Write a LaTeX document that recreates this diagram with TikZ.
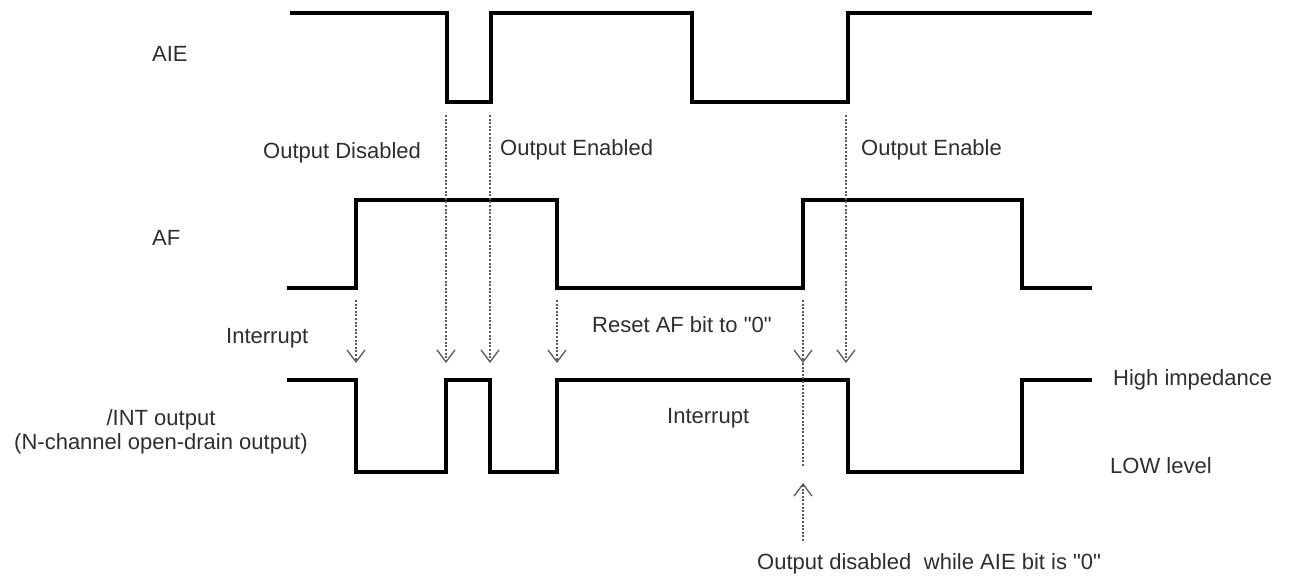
\documentclass[tikz,border=0pt]{standalone}
\usepackage{fontspec}
\setmainfont{Liberation Sans}[Ligatures=TeXOff]
\usetikzlibrary{arrows.meta}
\begin{document}
\begin{tikzpicture}[x=1pt,y=-1pt,
  wave/.style={line width=3.6pt, line join=miter, line cap=butt},
  hint/.style={draw=black!65, line width=1.3pt, dash pattern=on 2pt off 1.6pt},
  hinttip/.style={hint, -{Straight Barb[length=12pt,width=18pt,line width=1.3pt]}},
  lbl/.style={font=\fontsize{22}{24}\selectfont, text=black!82, inner sep=0pt, anchor=base west}]
\useasboundingbox (0,0) rectangle (1291,576);

% signal waveforms
\draw[wave] (290,13) -- (447,13) -- (447,102) -- (491,102) -- (491,13) -- (692,13)
  -- (692,102) -- (848,102) -- (848,13) -- (1092,13);
\draw[wave] (287,288) -- (356,288) -- (356,200) -- (557,200) -- (557,288) -- (803,288)
  -- (803,200) -- (1022,200) -- (1022,288) -- (1092,288);
\draw[wave] (287,380) -- (356,380) -- (356,472) -- (446,472) -- (446,380) -- (490,380)
  -- (490,472) -- (557,472) -- (557,380) -- (848,380) -- (848,472) -- (1022,472)
  -- (1022,380) -- (1092,380);

% signal names
\node[lbl] (nAIE) at (152,61) {AIE};
\node[lbl] (nAF) at (152,245) {AF};
\node[lbl, anchor=base, align=center] (nINT) at (161,449) {/INT output\\(N-channel open-drain output)};

% event labels
\node[lbl] (tDis) at (263,158) {Output Disabled};
\node[lbl] (tEn) at (500,155) {Output Enabled};
\node[lbl] (tEn2) at (861,155) {Output Enable};
\node[lbl] (tInt1) at (226,343) {Interrupt};
\node[lbl] (tReset) at (592,332) {Reset AF bit to "0"};
\node[lbl] (tInt2) at (667,423) {Interrupt};
\node[lbl] (tHigh) at (1113,385) {High impedance};
\node[lbl] (tLow) at (1110,473) {LOW level};
\node[lbl] (tNote) at (757,569) {Output disabled\hspace{0.3em} while AIE bit is "0"};

% cause/effect markers
\coordinate (a1s) at (356,300); \coordinate (a1e) at (356,363);
\coordinate (a2s) at (446,115); \coordinate (a2e) at (446,363);
\coordinate (a3s) at (490,115); \coordinate (a3e) at (490,363);
\coordinate (a4s) at (557,300); \coordinate (a4e) at (557,363);
\coordinate (a5s) at (803,300); \coordinate (a5e) at (803,363);
\coordinate (a5b) at (803,467);
\coordinate (a6s) at (846,115); \coordinate (a6e) at (846,363);
\coordinate (u1s) at (803,541); \coordinate (u1e) at (803,483);

\draw[hinttip] (a1s) -- (a1e);
\draw[hinttip] (a2s) -- (a2e);
\draw[hinttip] (a3s) -- (a3e);
\draw[hinttip] (a4s) -- (a4e);
\draw[hinttip] (a5s) -- (a5e);
\draw[hint] (a5e) -- (a5b);
\draw[hinttip] (a6s) -- (a6e);
\draw[hinttip] (u1s) -- (u1e);
\end{tikzpicture}
\end{document}
